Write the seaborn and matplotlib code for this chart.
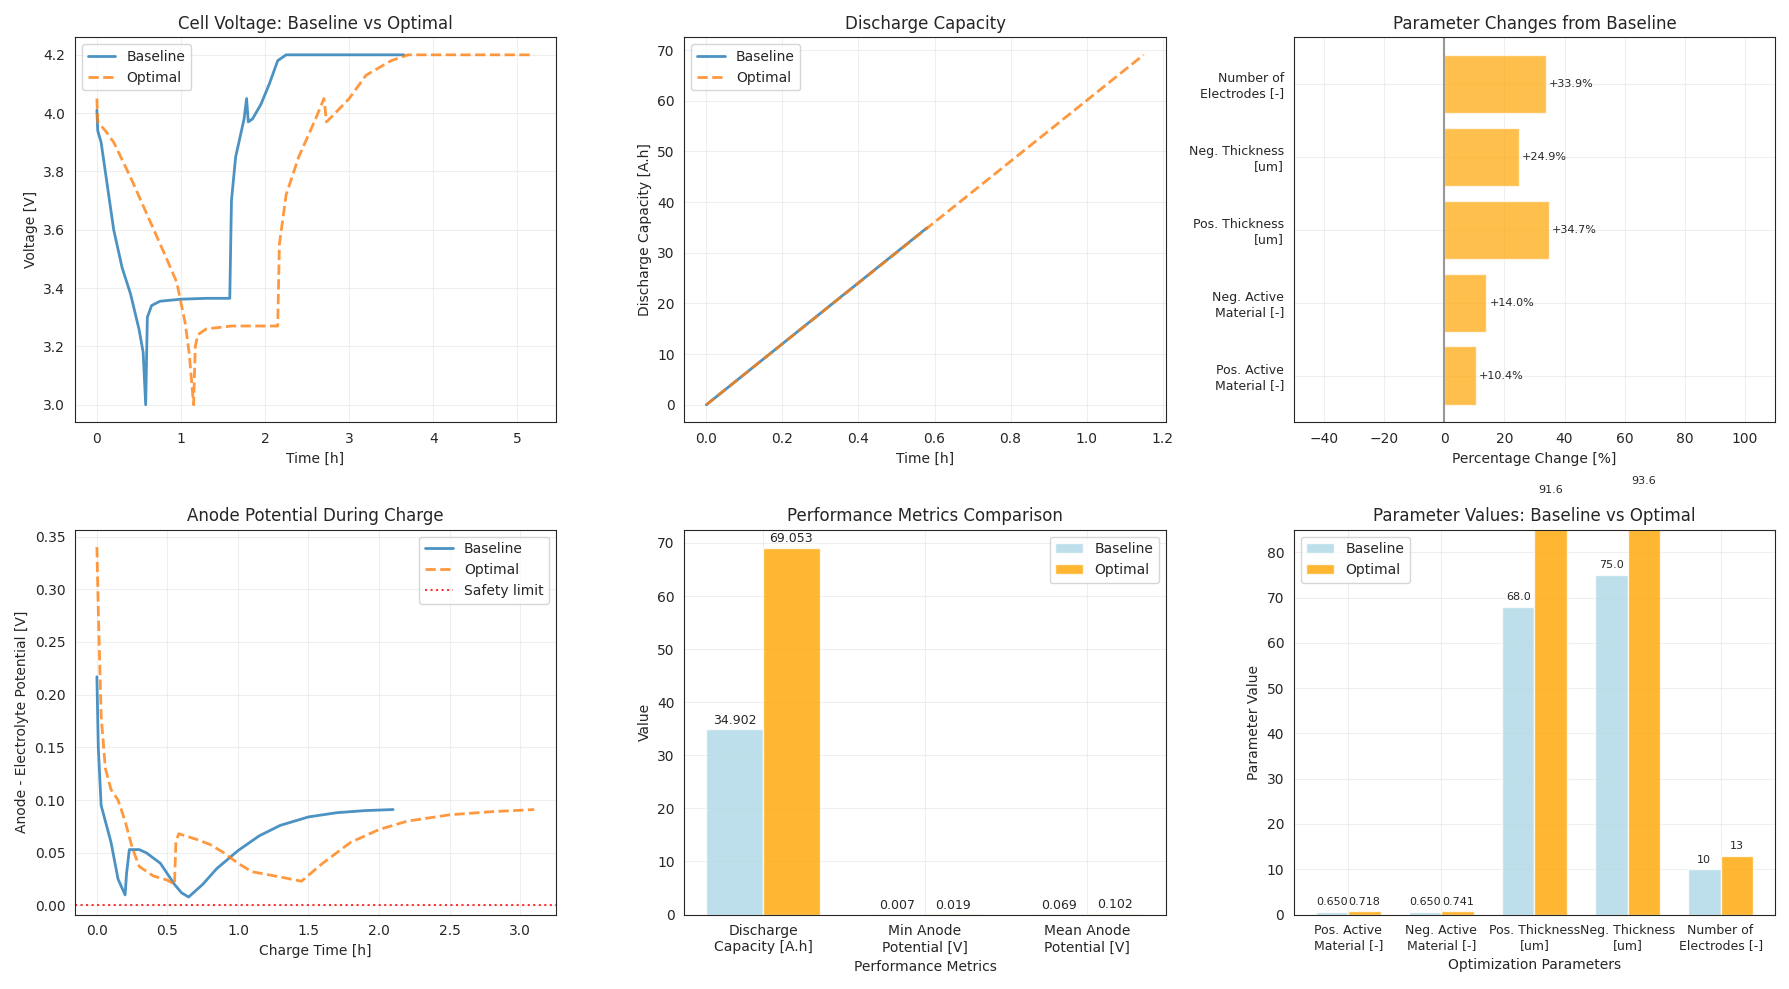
import matplotlib
matplotlib.use("Agg")
import matplotlib.pyplot as plt
import seaborn as sns
import numpy as np

sns.set_style("white")
plt.rcParams['font.family'] = ['DejaVu Sans']

BLUE = '#1f77b4'; ORANGE = '#ff7f0e'

# Voltage data
vb_t = [0, 0.01, 0.05, 0.1, 0.2, 0.3, 0.4, 0.5, 0.55, 0.58, 0.6, 0.65, 0.75, 1.0, 1.3, 1.58, 1.6, 1.65, 1.75, 1.78, 1.8, 1.85, 1.95, 2.05, 2.15, 2.25, 2.5, 3.0, 3.65]
vb_v = [4.01, 3.94, 3.9, 3.8, 3.6, 3.47, 3.38, 3.26, 3.18, 3.0, 3.3, 3.34, 3.355, 3.362, 3.365, 3.365, 3.7, 3.85, 3.98, 4.05, 3.97, 3.98, 4.03, 4.1, 4.18, 4.2, 4.2, 4.2, 4.2]
vo_t = [0, 0.01, 0.1, 0.2, 0.4, 0.6, 0.8, 0.95, 1.05, 1.1, 1.15, 1.17, 1.2, 1.3, 1.6, 2.0, 2.15, 2.17, 2.25, 2.4, 2.6, 2.7, 2.73, 2.8, 3.0, 3.2, 3.5, 3.7, 4.5, 5.2]
vo_v = [4.05, 3.97, 3.94, 3.9, 3.78, 3.65, 3.52, 3.42, 3.28, 3.17, 3.0, 3.2, 3.24, 3.26, 3.27, 3.27, 3.27, 3.55, 3.72, 3.85, 3.98, 4.05, 3.97, 3.99, 4.05, 4.13, 4.18, 4.2, 4.2, 4.2]

cap_b_t = [0, 0.58]; cap_b = [0, 34.902]
cap_o_t = [0, 1.15]; cap_o = [0, 69.053]

par_names = ['Pos. Active\nMaterial [-]', 'Neg. Active\nMaterial [-]', 'Pos. Thickness\n[um]', 'Neg. Thickness\n[um]', 'Number of\nElectrodes [-]']
par_change = [10.4, 14.0, 34.7, 24.9, 33.9]

ab_t = [0, 0.01, 0.03, 0.06, 0.1, 0.15, 0.2, 0.21, 0.23, 0.3, 0.35, 0.45, 0.5, 0.55, 0.6, 0.65, 0.75, 0.85, 1.0, 1.15, 1.3, 1.5, 1.7, 1.9, 2.1]
ab_v = [0.217, 0.15, 0.095, 0.08, 0.06, 0.025, 0.01, 0.03, 0.053, 0.053, 0.05, 0.04, 0.03, 0.02, 0.012, 0.008, 0.02, 0.035, 0.052, 0.066, 0.076, 0.084, 0.088, 0.09, 0.091]
ao_t = [0, 0.01, 0.03, 0.06, 0.1, 0.15, 0.2, 0.25, 0.3, 0.4, 0.5, 0.55, 0.56, 0.58, 0.7, 0.8, 0.9, 1.0, 1.1, 1.3, 1.45, 1.6, 1.8, 2.0, 2.2, 2.5, 2.8, 3.1]
ao_v = [0.34, 0.28, 0.18, 0.13, 0.11, 0.1, 0.08, 0.055, 0.037, 0.028, 0.024, 0.02, 0.06, 0.068, 0.063, 0.058, 0.05, 0.04, 0.032, 0.027, 0.023, 0.04, 0.06, 0.072, 0.08, 0.086, 0.089, 0.091]

met_names = ['Discharge\nCapacity [A.h]', 'Min Anode\nPotential [V]', 'Mean Anode\nPotential [V]']
met_base = [34.902, 0.007, 0.069]
met_opt = [69.053, 0.019, 0.102]

pv_names = ['Pos. Active\nMaterial [-]', 'Neg. Active\nMaterial [-]', 'Pos. Thickness\n[um]', 'Neg. Thickness\n[um]', 'Number of\nElectrodes [-]']
pv_base = [0.650, 0.650, 68.0, 75.0, 10]
pv_opt = [0.718, 0.741, 91.6, 93.6, 13]
pv_base_lbl = ['0.650', '0.650', '68.0', '75.0', '10']
pv_opt_lbl = ['0.718', '0.741', '91.6', '93.6', '13']

fig, axes = plt.subplots(2, 3, figsize=(17.9, 9.89), dpi=100)

ax = axes[0, 0]
sns.lineplot(x=vb_t, y=vb_v, ax=ax, color=BLUE, lw=2, alpha=0.8, label='Baseline', sort=False)
sns.lineplot(x=vo_t, y=vo_v, ax=ax, color=ORANGE, lw=2, alpha=0.8, ls='--', label='Optimal', sort=False)
ax.set_title('Cell Voltage: Baseline vs Optimal'); ax.set_xlabel('Time [h]'); ax.set_ylabel('Voltage [V]')
ax.legend(loc='upper left'); ax.grid(alpha=0.3)

ax = axes[0, 1]
sns.lineplot(x=cap_b_t, y=cap_b, ax=ax, color=BLUE, lw=2, alpha=0.8, label='Baseline')
sns.lineplot(x=cap_o_t, y=cap_o, ax=ax, color=ORANGE, lw=2, alpha=0.8, ls='--', label='Optimal')
ax.set_title('Discharge Capacity'); ax.set_xlabel('Time [h]'); ax.set_ylabel('Discharge Capacity [A.h]')
ax.legend(loc='upper left'); ax.grid(alpha=0.3)

ax = axes[0, 2]
y = np.arange(len(par_names))
ax.barh(y, par_change, color='orange', alpha=0.7)
for yi, v in zip(y, par_change):
    ax.text(v + 1, yi, f'+{v:.1f}%', va='center', fontsize=8)
ax.axvline(0, color='gray', lw=1.5, alpha=0.8)
ax.set_yticks(y); ax.set_yticklabels(par_names, fontsize=9)
ax.set_xlim(-50, 110)
ax.set_title('Parameter Changes from Baseline'); ax.set_xlabel('Percentage Change [%]')
ax.grid(alpha=0.3)

ax = axes[1, 0]
sns.lineplot(x=ab_t, y=ab_v, ax=ax, color=BLUE, lw=2, alpha=0.8, label='Baseline', sort=False)
sns.lineplot(x=ao_t, y=ao_v, ax=ax, color=ORANGE, lw=2, alpha=0.8, ls='--', label='Optimal', sort=False)
ax.axhline(0, color='red', ls=':', alpha=0.8, label='Safety limit')
ax.set_title('Anode Potential During Charge'); ax.set_xlabel('Charge Time [h]'); ax.set_ylabel('Anode - Electrolyte Potential [V]')
ax.legend(loc='upper right'); ax.grid(alpha=0.3)

w = 0.35
ax = axes[1, 1]
x = np.arange(len(met_names))
ax.bar(x - w/2, met_base, w, color='lightblue', alpha=0.8, label='Baseline')
ax.bar(x + w/2, met_opt, w, color='orange', alpha=0.8, label='Optimal')
for xi, b, o in zip(x, met_base, met_opt):
    ax.text(xi - w/2, b + 0.5, f'{b:.3f}', ha='center', va='bottom', fontsize=9)
    ax.text(xi + w/2, o + 0.5, f'{o:.3f}', ha='center', va='bottom', fontsize=9)
ax.set_xticks(x); ax.set_xticklabels(met_names)
ax.set_title('Performance Metrics Comparison'); ax.set_xlabel('Performance Metrics'); ax.set_ylabel('Value')
ax.legend(loc='upper right'); ax.grid(alpha=0.3)

ax = axes[1, 2]
x = np.arange(len(pv_names))
ax.bar(x - w/2, pv_base, w, color='lightblue', alpha=0.8, label='Baseline')
ax.bar(x + w/2, pv_opt, w, color='orange', alpha=0.8, label='Optimal')
for xi, b, o, bl, ol in zip(x, pv_base, pv_opt, pv_base_lbl, pv_opt_lbl):
    ax.text(xi - w/2, b + 1, bl, ha='center', va='bottom', fontsize=8)
    ax.text(xi + w/2, o + 1, ol, ha='center', va='bottom', fontsize=8)
ax.set_ylim(0, 85)
ax.set_xticks(x); ax.set_xticklabels(pv_names, fontsize=9)
ax.set_title('Parameter Values: Baseline vs Optimal'); ax.set_xlabel('Optimization Parameters'); ax.set_ylabel('Parameter Value')
ax.legend(loc='upper left'); ax.grid(alpha=0.3)

plt.tight_layout()
fig.savefig('out.png', dpi=100)
